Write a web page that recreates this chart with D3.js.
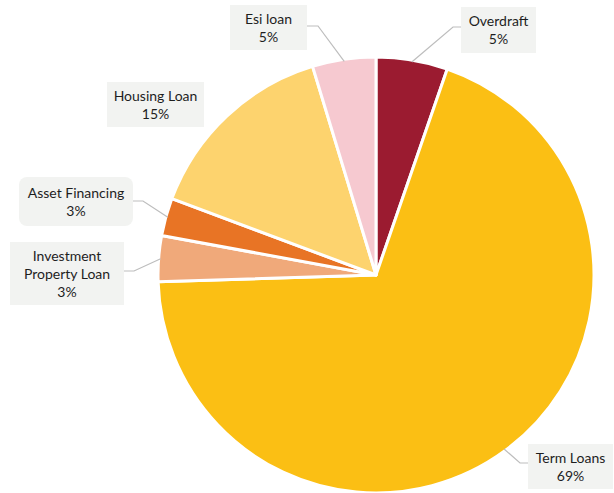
<!DOCTYPE html>
<html lang="en">
<head>
<meta charset="UTF-8">
<title>Loan portfolio pie</title>
<script src="https://cdn.jsdelivr.net/npm/d3@7"></script>
<style>
  body { margin: 0; background: #fff; }
  text { font-family: Lato, "Open Sans", sans-serif; fill: #1e1e1e; }
</style>
</head>
<body>
<svg id="chart" width="614" height="493"></svg>
<script>
// data, clockwise from 12 o'clock
const categories = ["Overdraft", "Term Loans", "Investment Property Loan", "Asset Financing", "Housing Loan", "Esi loan"];
const values = [5.3, 69.2, 3.4, 2.8, 14.6, 4.7];
const shownPct = ["5%", "69%", "3%", "3%", "15%", "5%"];
const colors = ["#9b1b30", "#fbbf14", "#f0a97a", "#e87425", "#fdd36e", "#f6c9d0"];

// label layout (box + text lines), kept apart from the data
const labelLines = [["Overdraft"], ["Term Loans"], ["Investment", "Property Loan"], ["Asset Financing"], ["Housing Loan"], ["Esi loan"]];
const labelBoxes = [
  {x: 461, y: 7, w: 75, h: 46, side: "left", elbow: [453, 27]},
  {x: 528, y: 444, w: 85, h: 45, side: "left", elbow: [520, 463]},
  {x: 10, y: 242, w: 114, h: 63, side: "right", elbow: [134, 271]},
  {x: 19, y: 177, w: 114, h: 49, side: "right", elbow: [143, 201], rounded: true},
  {x: 107, y: 82, w: 97, h: 45, side: null},
  {x: 230, y: 5, w: 77, h: 45, side: "right", elbow: [318, 26]}
];

const cx = 376, cy = 275, radius = 218;
const svg = d3.select("#chart");
const g = svg.append("g").attr("transform", `translate(${cx},${cy})`);

const pie = d3.pie().sort(null).value(d => d);
const arcs = pie(values);
const arc = d3.arc().innerRadius(0).outerRadius(radius);

g.selectAll("path.slice")
  .data(arcs)
  .join("path")
  .attr("class", "slice")
  .attr("d", arc)
  .attr("fill", (d, i) => colors[i])
  .attr("stroke", "#fff")
  .attr("stroke-width", 3)
  .attr("stroke-linejoin", "round");

// leader lines
arcs.forEach((d, i) => {
  const b = labelBoxes[i];
  if (!b.side) return;
  const mid = (d.startAngle + d.endAngle) / 2;
  const px = cx + (radius - 2) * Math.sin(mid), py = cy - (radius - 2) * Math.cos(mid);
  const ex = b.side === "left" ? b.x : b.x + b.w;
  svg.append("polyline")
    .attr("points", [[px, py], b.elbow, [ex, b.elbow[1]]].map(p => p.join(",")).join(" "))
    .attr("fill", "none")
    .attr("stroke", "#bdbdbd")
    .attr("stroke-width", 1.2);
});

// label boxes
labelBoxes.forEach((b, i) => {
  const lg = svg.append("g");
  lg.append("rect")
    .attr("x", b.x).attr("y", b.y).attr("width", b.w).attr("height", b.h)
    .attr("rx", b.rounded ? 8 : 0)
    .attr("fill", "#f2f3f1");
  const lines = labelLines[i].concat([shownPct[i]]);
  const lh = 18;
  const top = b.y + b.h / 2 - (lines.length * lh) / 2 + 14;
  lg.append("text")
    .attr("text-anchor", "middle")
    .attr("font-size", 14)
    .selectAll("tspan")
    .data(lines)
    .join("tspan")
    .attr("x", b.x + b.w / 2)
    .attr("y", (t, k) => top + k * lh)
    .text(t => t);
});
</script>
</body>
</html>
